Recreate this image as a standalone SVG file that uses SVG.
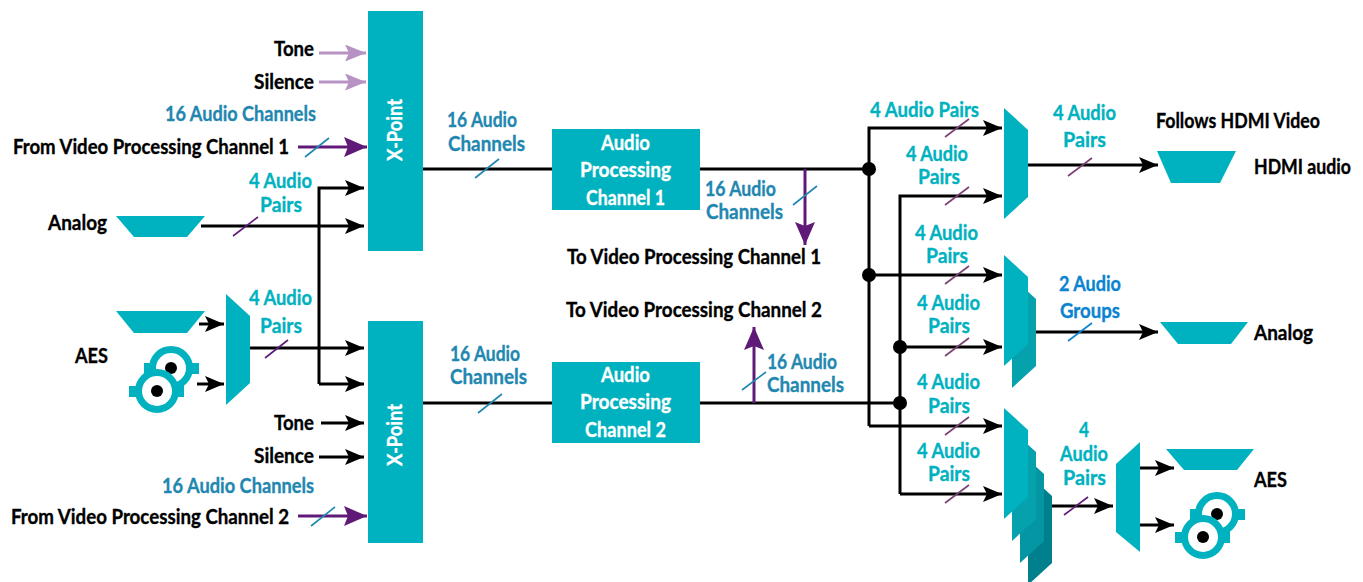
<svg xmlns="http://www.w3.org/2000/svg" xmlns:xlink="http://www.w3.org/1999/xlink" width="1363" height="582" viewBox="0 0 1363 582">
<style>
text{font-family:"Lato","Liberation Sans",sans-serif;font-weight:700;font-size:21px;stroke-width:.35}
.k{fill:#000;stroke:#000}.t{fill:#00b2bf;stroke:#00b2bf}.b{fill:#1f87b0;stroke:#1f87b0}.g{fill:#0a84d0;stroke:#0a84d0}.w{fill:#fff;stroke:#fff}
.sh{fill:#00b2bf}
.l{fill:none;stroke:#000;stroke-width:3}
.la{fill:none;stroke:#000;stroke-width:3;marker-end:url(#ak)}
.pa{fill:none;stroke:#5f1a78;stroke-width:3;marker-end:url(#ap)}
.ma{fill:none;stroke:#b793c3;stroke-width:3;marker-end:url(#am)}
.sp{stroke:#5f1a78;stroke-width:1.6;fill:none}
.sm{stroke:#7a3f73;stroke-width:1.6;fill:none}
.sb{stroke:#1f87b0;stroke-width:1.6;fill:none}
.sg{stroke:#0a84d0;stroke-width:1.6;fill:none}
</style>
<defs>
<marker id="ak" markerUnits="userSpaceOnUse" markerWidth="20" markerHeight="18" refX="19" refY="8" orient="auto"><path d="M0 0L19 8L0 16L4 8Z" fill="#000"/></marker>
<marker id="ap" markerUnits="userSpaceOnUse" markerWidth="24" markerHeight="24" refX="23" refY="10" orient="auto"><path d="M0 0L23 10L0 20L4 10Z" fill="#5f1a78"/></marker>
<marker id="am" markerUnits="userSpaceOnUse" markerWidth="22" markerHeight="20" refX="21" refY="8.5" orient="auto"><path d="M0 0L21 8.5L0 17L4 8.5Z" fill="#b793c3"/></marker>
<g id="xlr">
<rect x="144" y="363" width="55" height="11" fill="#00b2bf"/>
<circle cx="171" cy="368" r="18.5" fill="#fff" stroke="#00b2bf" stroke-width="7"/>
<circle cx="171" cy="368" r="6" fill="#000"/>
<rect x="129" y="386" width="55" height="11" fill="#00b2bf"/>
<circle cx="157" cy="391" r="18.5" fill="#fff" stroke="#00b2bf" stroke-width="7"/>
<circle cx="157" cy="391" r="6" fill="#000"/>
</g>
</defs>

<g id="connectors">
<path class="ma" d="M319 53H366"/>
<path class="ma" d="M319 82H366"/>
<path class="pa" d="M298 147H367"/>
<path class="la" d="M201 226H364"/>
<path class="la" d="M319 384V188H364"/>
<path class="la" d="M319 384H364"/>
<path class="la" d="M250 348H364"/>
<path class="la" d="M199 324H224"/>
<path class="la" d="M197 384H224"/>
<path class="la" d="M321 423H364"/>
<path class="la" d="M319 457H364"/>
<path class="pa" d="M298 516H367"/>
<path class="l" d="M423 169H552"/>
<path class="l" d="M423 403H552"/>
<path class="l" d="M700 169H869"/>
<path class="l" d="M700 403H900"/>
<path class="pa" d="M805 169V245"/>
<path class="pa" d="M754 403V327"/>
<path class="la" d="M869 426V128H1002"/>
<path class="la" d="M869 426H1002"/>
<path class="la" d="M869 275H1002"/>
<path class="la" d="M900 494V196H1002"/>
<path class="la" d="M900 494H1002"/>
<path class="la" d="M900 347H1002"/>
<path class="la" d="M1028 165H1158"/>
<path class="la" d="M1036 332H1158"/>
<path class="la" d="M1052 506H1113"/>
<path class="la" d="M1140 468H1174"/>
<path class="la" d="M1140 525H1174"/>
<circle cx="869" cy="169" r="7"/>
<circle cx="869" cy="275" r="7"/>
<circle cx="900" cy="347" r="7"/>
<circle cx="900" cy="403" r="7"/>
<path class="sb" d="M305 157L329 138"/>
<path class="sb" d="M311 526L335 507"/>
<path class="sb" d="M475 178L499 159"/>
<path class="sb" d="M478 413L502 394"/>
<path class="sb" d="M793 205L817 186"/>
<path class="sb" d="M742 390L766 372"/>
<path class="sp" d="M233 236L258 217"/>
<path class="sp" d="M265 358L288 340"/>
<path class="sp" d="M1064 515L1088 497"/>
<path class="sm" d="M945 137L969 119"/>
<path class="sm" d="M945 205L969 187"/>
<path class="sm" d="M945 284L969 266"/>
<path class="sm" d="M945 356L969 338"/>
<path class="sm" d="M945 435L969 417"/>
<path class="sm" d="M945 503L969 485"/>
<path class="sm" d="M1068 176L1092 158"/>
<path class="sg" d="M1068 341L1092 323"/>
</g>

<g id="xpoint-1"><rect class="sh" x="368" y="11" width="55" height="240"/>
<text class="w" transform="translate(402 161) rotate(-90)" textLength="62" lengthAdjust="spacingAndGlyphs">X-Point</text></g>
<g id="xpoint-2"><rect class="sh" x="368" y="321" width="55" height="222"/>
<text class="w" transform="translate(402 466) rotate(-90)" textLength="62" lengthAdjust="spacingAndGlyphs">X-Point</text></g>
<g id="audio-proc-1"><rect class="sh" x="552" y="129" width="148" height="81"/>
<text class="w" x="601" y="150" textLength="49" lengthAdjust="spacingAndGlyphs">Audio</text>
<text class="w" x="580" y="177" textLength="91" lengthAdjust="spacingAndGlyphs">Processing</text>
<text class="w" x="586" y="205" textLength="79" lengthAdjust="spacingAndGlyphs">Channel 1</text></g>
<g id="audio-proc-2"><rect class="sh" x="552" y="362" width="148" height="81"/>
<text class="w" x="601" y="382" textLength="49" lengthAdjust="spacingAndGlyphs">Audio</text>
<text class="w" x="580" y="409" textLength="91" lengthAdjust="spacingAndGlyphs">Processing</text>
<text class="w" x="585" y="437" textLength="81" lengthAdjust="spacingAndGlyphs">Channel 2</text></g>

<g id="analog-in"><path class="sh" d="M116 216H205L187 237H134Z"/>
<text class="k" x="48" y="230" textLength="59" lengthAdjust="spacingAndGlyphs">Analog</text></g>
<g id="aes-in"><path class="sh" d="M116 311H205L187 333H134Z"/><use xlink:href="#xlr" href="#xlr"/>
<text class="k" x="75" y="363" textLength="33" lengthAdjust="spacingAndGlyphs">AES</text></g>
<g id="aes-mux"><path class="sh" d="M226 294L250 316V383L226 405Z"/></g>
<g id="mux-hdmi"><path class="sh" d="M1004 108L1028 130V197L1004 219Z"/></g>
<g id="mux-analog"><path fill="#05a2ad" d="M1012 277L1036 299V366L1012 388Z"/><path class="sh" d="M1004 255L1028 277V344L1004 366Z"/></g>
<g id="mux-aes"><path fill="#00808c" d="M1028 474L1052 496V563L1028 585Z"/><path fill="#0596a3" d="M1020 452L1044 474V541L1020 563Z"/><path fill="#05a2ad" d="M1012 430L1036 452V519L1012 541Z"/><path class="sh" d="M1004 408L1028 430V497L1004 519Z"/></g>
<g id="demux-aes"><path class="sh" d="M1140 442V552L1116 532V464Z"/></g>
<g id="hdmi-out"><path class="sh" d="M1157 151H1236L1220 183H1171Z"/>
<text class="k" style="font-size:19px" transform="translate(1254 174) scale(1 1.1)" textLength="97" lengthAdjust="spacingAndGlyphs">HDMI audio</text></g>
<g id="analog-out"><path class="sh" d="M1160 322H1248L1231 344H1178Z"/>
<text class="k" x="1254" y="340" textLength="59" lengthAdjust="spacingAndGlyphs">Analog</text></g>
<g id="aes-out"><path class="sh" d="M1166 449H1254L1237 470H1184Z"/><use xlink:href="#xlr" href="#xlr" transform="translate(1046 146)"/>
<text class="k" x="1254" y="487" textLength="33" lengthAdjust="spacingAndGlyphs">AES</text></g>

<g id="labels">
<text class="k" x="274" y="56" textLength="40" lengthAdjust="spacingAndGlyphs">Tone</text>
<text class="k" x="254" y="89" textLength="60" lengthAdjust="spacingAndGlyphs">Silence</text>
<text class="b" x="165" y="121" textLength="151" lengthAdjust="spacingAndGlyphs">16 Audio Channels</text>
<text class="k" x="13" y="154" textLength="276" lengthAdjust="spacingAndGlyphs">From Video Processing Channel 1</text>
<text class="t" x="249" y="188" textLength="63" lengthAdjust="spacingAndGlyphs">4 Audio</text>
<text class="t" x="260" y="212" textLength="42" lengthAdjust="spacingAndGlyphs">Pairs</text>
<text class="t" x="249" y="305" textLength="63" lengthAdjust="spacingAndGlyphs">4 Audio</text>
<text class="t" x="260" y="333" textLength="42" lengthAdjust="spacingAndGlyphs">Pairs</text>
<text class="k" x="274" y="430" textLength="40" lengthAdjust="spacingAndGlyphs">Tone</text>
<text class="k" x="254" y="463" textLength="60" lengthAdjust="spacingAndGlyphs">Silence</text>
<text class="b" x="162" y="493" textLength="152" lengthAdjust="spacingAndGlyphs">16 Audio Channels</text>
<text class="k" x="11" y="524" textLength="278" lengthAdjust="spacingAndGlyphs">From Video Processing Channel 2</text>
<text class="b" x="447" y="127" textLength="70" lengthAdjust="spacingAndGlyphs">16 Audio</text>
<text class="b" x="448" y="151" textLength="77" lengthAdjust="spacingAndGlyphs">Channels</text>
<text class="b" x="450" y="361" textLength="70" lengthAdjust="spacingAndGlyphs">16 Audio</text>
<text class="b" x="450" y="384" textLength="77" lengthAdjust="spacingAndGlyphs">Channels</text>
<text class="b" x="705" y="196" textLength="71" lengthAdjust="spacingAndGlyphs">16 Audio</text>
<text class="b" x="706" y="219" textLength="77" lengthAdjust="spacingAndGlyphs">Channels</text>
<text class="k" x="567" y="264" textLength="254" lengthAdjust="spacingAndGlyphs">To Video Processing Channel 1</text>
<text class="k" x="566" y="317" textLength="256" lengthAdjust="spacingAndGlyphs">To Video Processing Channel 2</text>
<text class="b" x="767" y="369" textLength="70" lengthAdjust="spacingAndGlyphs">16 Audio</text>
<text class="b" x="767" y="392" textLength="77" lengthAdjust="spacingAndGlyphs">Channels</text>
<text class="t" x="870" y="117" textLength="109" lengthAdjust="spacingAndGlyphs">4 Audio Pairs</text>
<text class="t" x="906" y="161" textLength="62" lengthAdjust="spacingAndGlyphs">4 Audio</text>
<text class="t" x="918" y="184" textLength="42" lengthAdjust="spacingAndGlyphs">Pairs</text>
<text class="t" x="915" y="240" textLength="63" lengthAdjust="spacingAndGlyphs">4 Audio</text>
<text class="t" x="926" y="263" textLength="42" lengthAdjust="spacingAndGlyphs">Pairs</text>
<text class="t" x="917" y="310" textLength="63" lengthAdjust="spacingAndGlyphs">4 Audio</text>
<text class="t" x="928" y="333" textLength="42" lengthAdjust="spacingAndGlyphs">Pairs</text>
<text class="t" x="917" y="389" textLength="63" lengthAdjust="spacingAndGlyphs">4 Audio</text>
<text class="t" x="928" y="413" textLength="42" lengthAdjust="spacingAndGlyphs">Pairs</text>
<text class="t" x="917" y="458" textLength="63" lengthAdjust="spacingAndGlyphs">4 Audio</text>
<text class="t" x="928" y="481" textLength="42" lengthAdjust="spacingAndGlyphs">Pairs</text>
<text class="t" x="1053" y="120" textLength="63" lengthAdjust="spacingAndGlyphs">4 Audio</text>
<text class="t" x="1063" y="147" textLength="43" lengthAdjust="spacingAndGlyphs">Pairs</text>
<text class="k" x="1156" y="128" textLength="164" lengthAdjust="spacingAndGlyphs">Follows HDMI Video</text>
<text class="g" x="1059" y="291" textLength="62" lengthAdjust="spacingAndGlyphs">2 Audio</text>
<text class="g" x="1060" y="318" textLength="60" lengthAdjust="spacingAndGlyphs">Groups</text>
<text class="t" x="1079" y="437" textLength="10" lengthAdjust="spacingAndGlyphs">4</text>
<text class="t" x="1060" y="461" textLength="48" lengthAdjust="spacingAndGlyphs">Audio</text>
<text class="t" x="1063" y="485" textLength="43" lengthAdjust="spacingAndGlyphs">Pairs</text>
</g>
</svg>
